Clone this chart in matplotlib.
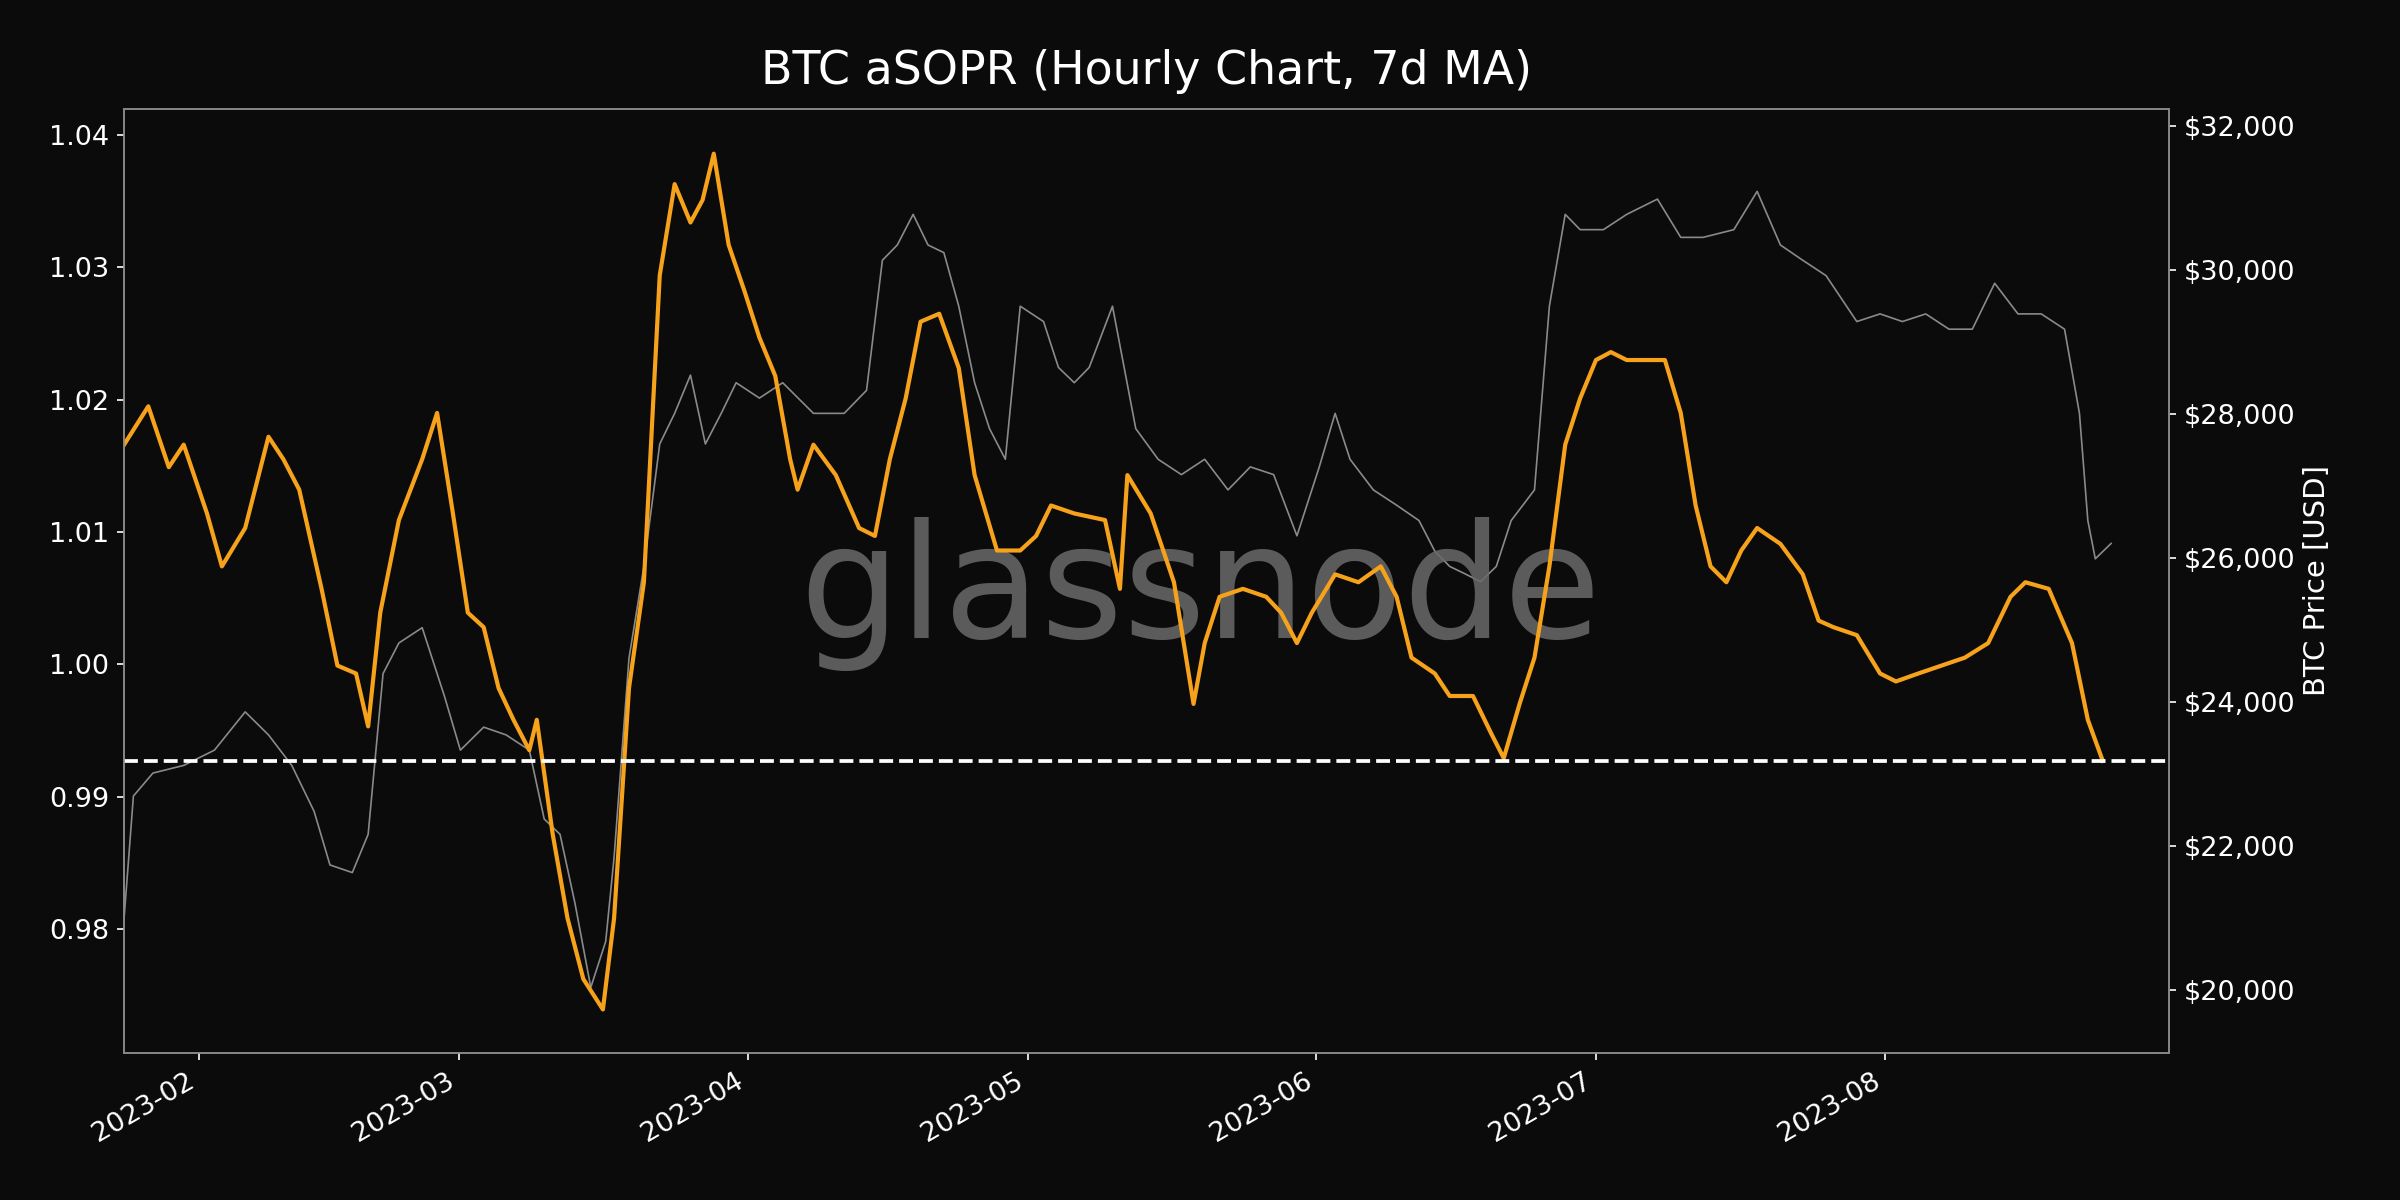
import numpy as np
import pandas as pd
import matplotlib
matplotlib.use("Agg")
import matplotlib.pyplot as plt
import matplotlib.dates as mdates
from matplotlib.ticker import FuncFormatter

# day-of-year 2023 positions and values
asopr_doy = [24.0,26.6,28.8,30.4,32.9,34.5,37.0,39.5,41.1,42.8,45.2,46.9,48.9,50.2,51.5,53.5,56.0,57.6,59.3,60.9,
             62.6,64.2,65.8,67.5,68.3,70.0,71.6,73.3,75.4,76.6,78.2,79.8,81.5,83.1,84.8,86.1,87.3,88.9,90.6,92.2,
             93.9,95.5,96.3,98.0,100.4,102.9,104.6,106.2,107.9,109.5,111.5,113.6,115.3,117.7,120.2,121.9,123.5,126.0,
             129.3,130.9,131.7,134.2,136.7,138.8,140.0,141.6,144.1,146.6,148.2,149.9,151.5,154.0,156.5,158.9,160.6,
             162.2,164.7,166.3,168.8,170.8,172.1,173.8,175.4,177.0,178.7,180.3,182.0,183.6,185.3,186.9,189.4,191.1,
             192.7,194.3,196.0,197.6,199.3,201.8,204.2,205.9,207.5,210.0,212.5,214.2,216.6,219.1,221.6,224.1,226.5,
             228.1,230.6,233.1,234.8,236.4]
asopr_val = [1.0166,1.0195,1.0149,1.0166,1.0114,1.0074,1.0103,1.0172,1.0155,1.0132,1.0057,0.9999,0.9993,0.9953,1.0039,
             1.0109,1.0155,1.0190,1.0114,1.0039,1.0028,0.9982,0.9958,0.9935,0.9958,0.9872,0.9808,0.9762,0.9739,0.9808,
             0.9982,1.0062,1.0294,1.0363,1.0334,1.0351,1.0386,1.0317,1.0282,1.0247,1.0218,1.0155,1.0132,1.0166,1.0143,
             1.0103,1.0097,1.0155,1.0201,1.0259,1.0265,1.0224,1.0143,1.0086,1.0086,1.0097,1.0120,1.0114,1.0109,1.0057,
             1.0143,1.0114,1.0062,0.9970,1.0016,1.0051,1.0057,1.0051,1.0039,1.0016,1.0039,1.0068,1.0062,1.0074,1.0051,
             1.0005,0.9993,0.9976,0.9976,0.9947,0.9929,0.9970,1.0005,1.0074,1.0166,1.0201,1.0230,1.0236,1.0230,1.0230,
             1.0230,1.0190,1.0120,1.0074,1.0062,1.0086,1.0103,1.0091,1.0068,1.0033,1.0028,1.0022,0.9993,0.9987,0.9993,
             0.9999,1.0005,1.0016,1.0051,1.0062,1.0057,1.0016,0.9958,0.9927]
price_doy = [24.0,25.0,27.1,30.4,33.7,37.0,39.5,42.0,44.4,46.1,48.5,50.2,51.8,53.5,56.0,58.4,60.1,62.6,65.0,67.5,
             69.1,70.8,72.4,74.1,75.7,76.6,78.2,79.8,81.5,83.1,84.8,86.4,88.1,89.7,92.2,94.7,98.0,101.3,103.7,105.4,
             107.0,108.7,110.3,112.0,113.6,115.3,116.9,118.6,120.2,122.7,124.3,126.0,127.6,130.1,132.6,135.0,137.5,
             140.0,142.5,144.9,147.4,149.9,152.3,154.0,155.6,158.1,160.6,163.0,164.7,166.3,168.0,169.6,171.3,172.9,
             175.4,177.0,178.7,180.3,182.8,185.3,188.6,191.1,193.5,196.8,199.3,201.8,204.2,206.7,210.0,212.5,214.9,
             217.4,219.9,222.4,224.8,227.3,229.8,232.3,233.9,234.8,235.6,237.3]
price_val = [20998,22697,23016,23122,23334,23865,23546,23122,22484,21741,21635,22166,24396,24821,25033,24078,23334,
             23653,23546,23334,22378,22166,21210,20042,20679,21847,24609,25883,27582,28007,28538,27582,28007,28432,
             28219,28432,28007,28007,28326,30131,30343,30768,30343,30237,29494,28432,27795,27370,29494,29281,28644,
             28432,28644,29494,27795,27370,27157,27370,26945,27264,27157,26308,27264,28007,27370,26945,26733,26520,
             26095,25883,25777,25671,25883,26520,26945,29494,30768,30556,30556,30768,30980,30449,30449,30556,31087,
             30343,30131,29918,29281,29387,29281,29387,29175,29175,29812,29387,29387,29175,28007,26520,25989,26202]

base = pd.Timestamp("2023-01-01")
to_dates = lambda d: base + pd.to_timedelta(np.array(d) - 1, unit="D")
ad, pdt = to_dates(asopr_doy), to_dates(price_doy)

bg = "#0b0b0b"
fig = plt.figure(figsize=(16, 8), dpi=150, facecolor=bg)
ax = fig.add_axes([0.0517, 0.1224, 0.852, 0.787], facecolor=bg)
ax2 = ax.twinx()
ax.set_zorder(2); ax.patch.set_visible(False)

ax2.plot(pdt, price_val, color="#8a8a8a", lw=0.8)
ax.plot(ad, asopr_val, color="#f7a21b", lw=2)
ax.axhline(asopr_val[-1], color="white", ls="--", lw=1.8)

ax.set_ylim(0.9706, 1.042)
ax2.set_ylim(19130, 32234)
ax.set_xlim(pd.Timestamp("2023-01-24"), pd.Timestamp("2023-08-31 12:00"))
ax.set_yticks([0.98, 0.99, 1.00, 1.01, 1.02, 1.03, 1.04])
ax.yaxis.set_major_formatter(FuncFormatter(lambda v, p: f"{v:.2f}"))
ax2.set_yticks(range(20000, 32001, 2000))
ax2.yaxis.set_major_formatter(FuncFormatter(lambda v, p: f"${v:,.0f}"))
ax.xaxis.set_major_locator(mdates.MonthLocator())
ax.xaxis.set_major_formatter(mdates.DateFormatter("%Y-%m"))
for lab in ax.get_xticklabels():
    lab.set_rotation(30); lab.set_ha("right")

for a in (ax, ax2):
    a.tick_params(colors="white", labelsize=13)
    for s in a.spines.values():
        s.set_color("#888888")
ax2.set_ylabel("BTC Price [USD]", color="white", fontsize=14)
ax.set_title("BTC aSOPR (Hourly Chart, 7d MA)", color="white", fontsize=22, pad=12)
fig.text(0.5, 0.505, "glassnode", color="#6a6a6a", alpha=0.85, fontsize=76,
         ha="center", va="center", zorder=1)

fig.savefig("out.png", dpi=150, facecolor=bg)
